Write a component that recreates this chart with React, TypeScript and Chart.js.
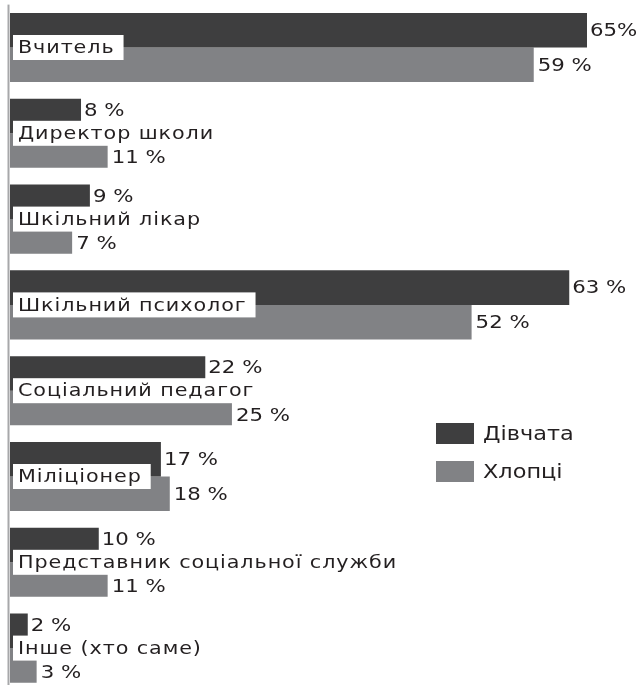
import React, { useEffect, useRef } from "react";
import { Chart, registerables } from "chart.js";

Chart.register(...registerables);

const categories = [
  "Вчитель",
  "Директор школи",
  "Шкільний лікар",
  "Шкільний психолог",
  "Соціальний педагог",
  "Міліціонер",
  "Представник соціальної служби",
  "Інше (хто саме)",
];
const seriesNames = ["Дівчата", "Хлопці"];
const girls = [65, 8, 9, 63, 22, 17, 10, 2];
const boys = [59, 11, 7, 52, 25, 18, 11, 3];
const girlsLabels = ["65%", "8 %", "9 %", "63 %", "22 %", "17 %", "10 %", "2 %"];
const boysLabels = ["59 %", "11 %", "7 %", "52 %", "25 %", "18 %", "11 %", "3 %"];
const xMax = 70;

const DARK = "#3e3e3f";
const GRAY = "#818285";
const TEXT = "#231f20";
const FONT = '"DejaVu Sans", sans-serif';
const SX = 1.15;

function wideText(ctx: any, text: string, x: number, y: number) {
  ctx.save();
  ctx.translate(x, y);
  ctx.scale(SX, 1);
  ctx.fillText(text, 0, 0);
  ctx.restore();
}

const overlay = {
  id: "overlay",
  afterDatasetsDraw(chart: any) {
    const ctx = chart.ctx;
    const area = chart.chartArea;
    ctx.save();
    // axis line
    ctx.fillStyle = "#a7a8aa";
    ctx.fillRect(area.left - 2.5, area.top, 2, area.bottom - area.top);

    const m0 = chart.getDatasetMeta(0);
    const m1 = chart.getDatasetMeta(1);
    ctx.textBaseline = "middle";
    ctx.textAlign = "left";
    categories.forEach((cat, i) => {
      const b0 = m0.data[i];
      const b1 = m1.data[i];
      const cy = (b0.y + b1.y) / 2;
      ctx.font = `18px ${FONT}`;
      ctx.letterSpacing = "0.8px";
      const tw = ctx.measureText(cat).width * SX;
      const boxL = area.left + 3;
      const boxR = boxL + 5 + tw + 9;
      ctx.fillStyle = "#ffffff";
      ctx.fillRect(boxL, cy - 12.5, boxR - boxL, 25);
      ctx.fillStyle = TEXT;
      wideText(ctx, cat, boxL + 5, cy + 1);

      // value labels
      ctx.font = `18.5px ${FONT}`;
      ctx.letterSpacing = "0px";
      const y0 = b0.x < boxR ? b0.y - 6 : b0.y;
      const y1 = b1.x < boxR ? b1.y + 7 : b1.y;
      wideText(ctx, girlsLabels[i], b0.x + 3, y0 + 1);
      wideText(ctx, boysLabels[i], b1.x + 4, y1 + 1);
    });

    // legend
    const lx = 436;
    const ly = 423;
    ctx.letterSpacing = "0px";
    [DARK, GRAY].forEach((c, k) => {
      const y = ly + k * 38;
      ctx.fillStyle = c;
      ctx.fillRect(lx, y, 38, 21);
      ctx.fillStyle = TEXT;
      ctx.font = `19.5px ${FONT}`;
      wideText(ctx, seriesNames[k], lx + 47, y + 11.5);
    });
    ctx.restore();
  },
};

export default function App() {
  const ref = useRef<HTMLCanvasElement>(null);
  useEffect(() => {
    if (!ref.current) return;
    const pxPer = (587 - 10) / 65;
    const chart = new Chart(ref.current, {
      type: "bar",
      data: {
        labels: categories,
        datasets: [
          { label: seriesNames[0], data: girls, backgroundColor: DARK, categoryPercentage: 0.805, barPercentage: 1 },
          { label: seriesNames[1], data: boys, backgroundColor: GRAY, categoryPercentage: 0.805, barPercentage: 1 },
        ],
      },
      options: {
        indexAxis: "y",
        animation: false,
        responsive: false,
        devicePixelRatio: 1,
        layout: { padding: { left: 10, right: 638 - 10 - xMax * pxPer, top: 4.6, bottom: 0 } },
        scales: {
          x: { display: false, min: 0, max: xMax },
          y: { display: false },
        },
        plugins: { legend: { display: false }, tooltip: { enabled: false } },
      },
      plugins: [overlay],
    });
    return () => chart.destroy();
  }, []);
  return (
    <canvas
      ref={ref}
      width={638}
      height={691}
      style={{ position: "fixed", top: 0, left: 0, width: 638, height: 691 }}
    />
  );
}
